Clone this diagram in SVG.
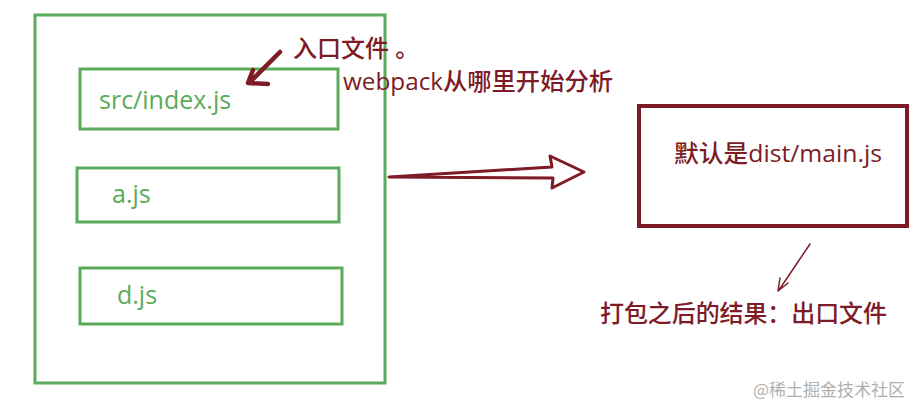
<svg xmlns="http://www.w3.org/2000/svg" width="919" height="406" viewBox="0 0 919 406">
<style>
.g{fill:none;stroke:#5aab5a;stroke-width:3}
.gt{fill:#5aab5a;font-family:"Open Sans","Noto Sans CJK SC",sans-serif;font-size:25px;font-weight:500}
.rt{fill:#7d1b26;font-family:"Open Sans","Noto Sans CJK SC",sans-serif;font-size:24px;font-weight:500}
.rl{fill:none;stroke:#7d1b26;stroke-linecap:round;stroke-linejoin:round}
</style>
<rect width="919" height="406" fill="#fff"/>
<g id="bundle-src">
<rect class="g" x="35" y="15" width="350" height="368"/>
</g>
<g id="node-index">
<rect class="g" x="80" y="69" width="258" height="60"/>
<text class="gt" x="99" y="109">src/index.js</text>
</g>
<g id="node-a">
<rect class="g" x="77" y="168" width="262" height="54"/>
<text class="gt" x="112" y="203">a.js</text>
</g>
<g id="node-d">
<rect class="g" x="80" y="268" width="262" height="56"/>
<text class="gt" x="117" y="304">d.js</text>
</g>
<g id="node-main">
<rect x="639" y="106" width="268" height="120" fill="none" stroke="#7d1b26" stroke-width="4"/>
<text class="rt" x="674" y="162" font-size="26" textLength="208" lengthAdjust="spacingAndGlyphs">默认是dist/main.js</text>
</g>
<g id="label-entry">
<text class="rt" x="293" y="57" font-size="23">入口文件 。</text>
<text class="rt" x="343" y="90" textLength="270" lengthAdjust="spacingAndGlyphs">webpack从哪里开始分析</text>
</g>
<g id="label-output">
<text class="rt" x="600" y="322" font-size="23" textLength="287">打包之后的结果：出口文件</text>
</g>
<g id="connectors">
<path class="rl" stroke-width="4.5" d="M280 52 L249 83 M253 70 L248 83 L268 84"/>
<path class="rl" stroke-width="3" d="M389 177 L552 167 L550 156 L584 172 L552 188 L553 178 Z"/>
<path class="rl" stroke-width="1.5" d="M810 244 L779 290 M780 278 L778 291 L788 283"/>
</g>
<text x="753" y="396" fill="#b0b0b0" font-family="'Noto Sans CJK SC',sans-serif" font-size="17">@稀土掘金技术社区</text>
</svg>
